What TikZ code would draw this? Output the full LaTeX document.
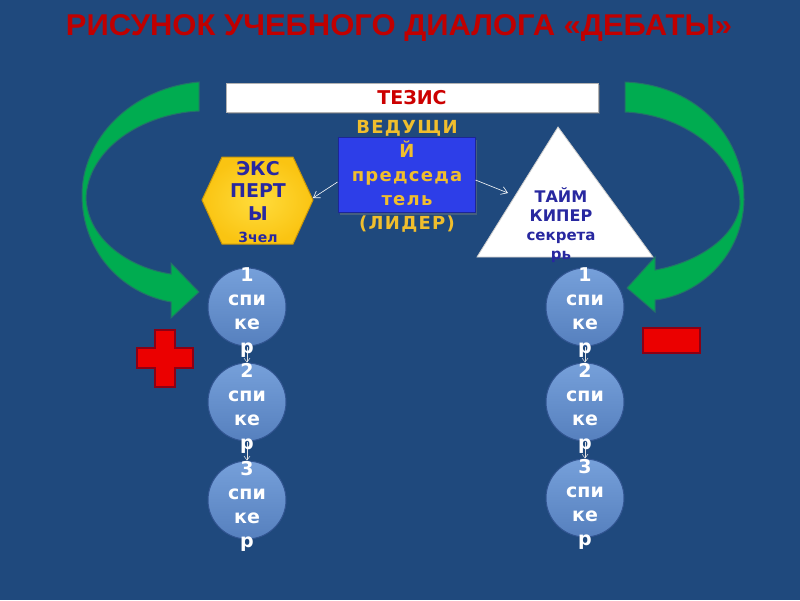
\documentclass[tikz,border=0pt]{standalone}
\usepackage{graphicx}
\usepackage{fontspec}
\setmainfont{DejaVu Sans}
\newfontfamily\titlefont{Liberation Sans}
\newfontfamily\spacedfont[LetterSpace=7]{DejaVu Sans}
\usetikzlibrary{arrows.meta,shadows}
\definecolor{bg}{RGB}{31,73,125}
\definecolor{titlered}{RGB}{192,0,0}
\definecolor{greenfill}{RGB}{0,172,80}
\definecolor{greenedge}{RGB}{35,115,105}
\definecolor{spktop}{RGB}{118,160,218}
\definecolor{spkbot}{RGB}{86,128,190}
\definecolor{spkedge}{RGB}{50,85,145}
\definecolor{leadblue}{RGB}{45,62,232}
\definecolor{leadedge}{RGB}{28,38,150}
\definecolor{goldtext}{RGB}{240,190,45}
\definecolor{hexfill}{RGB}{250,196,18}
\definecolor{hexlight}{RGB}{255,220,60}
\definecolor{hexedge}{RGB}{200,150,10}
\definecolor{navytext}{RGB}{40,40,160}
\definecolor{crossred}{RGB}{235,0,0}
\definecolor{crossedge}{RGB}{140,0,20}
\begin{document}
\begin{tikzpicture}[x=1pt,y=-1pt,
  titletext/.style={text=titlered, font=\titlefont\bfseries, inner sep=0pt},
  greenarrow/.style={fill=greenfill, draw=greenedge, line width=1pt},
  thesis/.style={fill=white, draw=gray!60, line width=1pt, minimum width=372pt, minimum height=29pt, inner sep=0pt,
    drop shadow={opacity=0.45, shadow xshift=2pt, shadow yshift=-2pt}},
  thesistext/.style={text=red!80!black, font=\bfseries\fontsize{19}{22}\selectfont, inner sep=0pt},
  leadbox/.style={fill=leadblue, draw=leadedge, line width=1pt, minimum width=137pt, minimum height=75pt, inner sep=0pt,
    drop shadow={opacity=0.4, shadow xshift=2pt, shadow yshift=-2pt}},
  leadtext/.style={text=goldtext, font=\spacedfont\bfseries\fontsize{18}{24}\selectfont, align=center, inner sep=0pt},
  hexshape/.style={inner color=hexlight, outer color=hexfill, draw=hexedge, line width=1pt},
  hextext/.style={text=navytext, font=\bfseries\fontsize{19}{22.5}\selectfont, align=center, inner sep=0pt},
  trishape/.style={fill=white, draw=gray!40, line width=0.8pt},
  tritext/.style={text=navytext, font=\bfseries\fontsize{16}{19}\selectfont, align=center, inner sep=0pt},
  spk/.style={circle, minimum size=78pt, inner sep=0pt, draw=spkedge, line width=1pt, top color=spktop, bottom color=spkbot},
  spktext/.style={text=white, font=\bfseries\fontsize{19}{24}\selectfont, align=center, inner sep=0pt},
  thinarrow/.style={draw=white, line width=0.6pt, -{Straight Barb[length=6pt,width=8pt]}},
  tinyarrow/.style={draw=white!80!gray, line width=0.5pt, -{Straight Barb[length=4pt,width=6pt]}},
  redshape/.style={fill=crossred, draw=crossedge, line width=1.2pt}
]
\fill[bg] (0,0) rectangle (800,600);
\path[use as bounding box] (0,0) rectangle (800,600);

% title
\node[titletext, anchor=base] (title) at (399,35) {\resizebox{666pt}{21pt}{РИСУНОК УЧЕБНОГО ДИАЛОГА «ДЕБАТЫ»}};

% green curved arrows
\path[greenarrow] (199,82) .. controls (130,88) and (82,140) .. (82,195)
  .. controls (82,250) and (120,293) .. (171,302)
  -- (171,318) -- (199,292) -- (171,263) -- (171,274)
  .. controls (130,268) and (88,240) .. (86,198)
  .. controls (88,150) and (140,114) .. (199,111) -- cycle;
\path[greenarrow] (625,82) .. controls (700,85) and (745,140) .. (744,200)
  .. controls (743,255) and (700,295) .. (655,300)
  -- (655,312) -- (627,288) -- (655,257) -- (655,270)
  .. controls (700,262) and (738,235) .. (740,203)
  .. controls (738,160) and (690,115) .. (625,112) -- cycle;

% thesis bar
\node[thesis] (tez) at (412,97.5) {};
\node[thesistext] (teztext) at (412,97.5) {ТЕЗИС};

% leader box
\node[leadbox] (lead) at (406.5,175) {};
\node[leadtext] (leadt) at (407,176) {ВЕДУЩИ\\Й\\председа\\тель\\(ЛИДЕР)};

% experts hexagon
\path[hexshape] (202,200) -- (222,157) -- (293,157) -- (313,200) -- (293,244) -- (222,244) -- cycle;
\node[hextext] (hex) at (258,202) {ЭКС\\ПЕРТ\\Ы\\{\fontsize{14}{16}\selectfont 3чел}};
\coordinate (hexR) at (313,198);

% timekeeper triangle
\path[trishape] (558,127) -- (653,257) -- (477,257) -- cycle;
\node[tritext] (tri) at (561,225) {ТАЙМ\\КИПЕР\\{\fontsize{15}{19}\selectfont секрета}\\{\fontsize{15}{19}\selectfont рь}};
\coordinate (triL) at (508,193);

% arrows from leader
\draw[thinarrow] ([yshift=-7pt]lead.west) -- (hexR);
\draw[thinarrow] ([yshift=-5pt]lead.east) -- (triL);

% speakers left
\node[spk] (l1) at (247,307) {};
\node[spk] (l2) at (247,402) {};
\node[spk] (l3) at (247,500) {};
\draw[tinyarrow] (l1.south) -- (l2.north);
\draw[tinyarrow] (l2.south) -- (l3.north);
\node[spktext] (l1t) at (247,313) {1\\спи\\ке\\р};
\node[spktext] (l2t) at (247,408) {2\\спи\\ке\\р};
\node[spktext] (l3t) at (247,506) {3\\спи\\ке\\р};

% speakers right
\node[spk] (r1) at (585,307) {};
\node[spk] (r2) at (585,402) {};
\node[spk] (r3) at (585,498) {};
\draw[tinyarrow] (r1.south) -- (r2.north);
\draw[tinyarrow] (r2.south) -- (r3.north);
\node[spktext] (r1t) at (585,313) {1\\спи\\ке\\р};
\node[spktext] (r2t) at (585,408) {2\\спи\\ке\\р};
\node[spktext] (r3t) at (585,504) {3\\спи\\ке\\р};

% plus and minus
\path[redshape] (155,330) -- (175,330) -- (175,348) -- (193,348) -- (193,368) -- (175,368) -- (175,387)
  -- (155,387) -- (155,368) -- (137,368) -- (137,348) -- (155,348) -- cycle;
\path[redshape] (643,328) rectangle (700,353);
\end{tikzpicture}
\end{document}
